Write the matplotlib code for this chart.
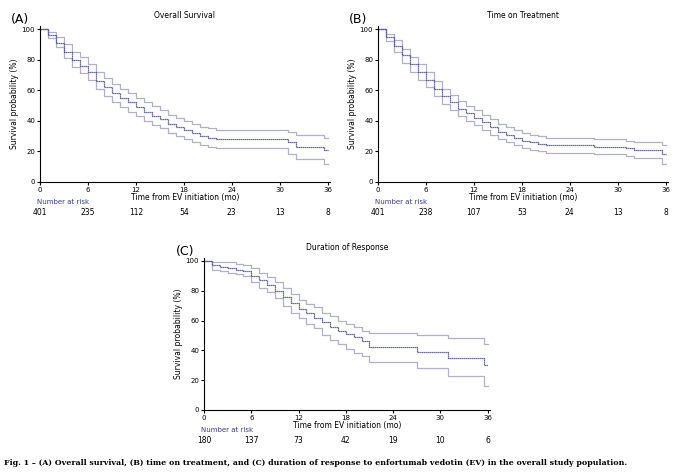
import matplotlib
matplotlib.use("Agg")
from matplotlib import pyplot as plt

months = [0, 1, 2, 3, 4, 5, 6, 7, 8, 9, 10, 11, 12, 13, 14, 15, 16, 17, 18,
          19, 20, 21, 22, 27, 31, 32, 35.5, 36]

os_est = [100, 96, 91, 85, 80, 76, 72, 66, 62, 58, 55, 52, 49, 46, 43, 41, 38, 36, 34, 32, 30, 29, 28, 28, 26, 23, 21, 21]
os_hi = [100, 98, 95, 90, 85, 82, 77, 72, 68, 64, 61, 58, 55, 52, 50, 47, 44, 42, 40, 38, 36, 35, 34, 34, 33, 31, 29, 29]
os_lo = [100, 94, 88, 81, 75, 71, 67, 61, 56, 52, 49, 46, 43, 40, 37, 35, 32, 30, 28, 26, 24, 23, 22, 22, 18, 15, 12, 12]

tot_est = [100, 95, 89, 83, 77, 72, 67, 61, 56, 52, 48, 45, 42, 39, 36, 33, 31, 29, 27, 26, 25, 24, 24, 23, 22, 21, 18, 18]
tot_hi = [100, 97, 93, 87, 82, 77, 72, 66, 61, 57, 53, 50, 47, 44, 41, 38, 36, 34, 32, 31, 30, 29, 29, 28, 27, 26, 24, 24]
tot_lo = [100, 92, 85, 78, 72, 67, 62, 56, 51, 47, 43, 40, 37, 34, 31, 28, 26, 24, 22, 21, 20, 19, 19, 18, 17, 16, 12, 12]

dor_est = [100, 97, 96, 95, 94, 93, 90, 87, 84, 80, 76, 72, 68, 65, 62, 59, 56, 53, 51, 49, 46, 42, 42, 39, 35, 35, 30, 30]
dor_hi = [100, 99, 99, 99, 98, 97, 95, 92, 89, 86, 82, 78, 74, 71, 69, 65, 63, 60, 58, 56, 53, 52, 52, 50, 48, 48, 44, 44]
dor_lo = [100, 94, 93, 92, 91, 90, 86, 82, 79, 75, 70, 65, 62, 58, 55, 50, 47, 44, 41, 38, 36, 32, 32, 28, 23, 23, 16, 16]

risk_times = [0, 6, 12, 18, 24, 30, 36]
os_risk = [401, 235, 112, 54, 23, 13, 8]
tot_risk = [401, 238, 107, 53, 24, 13, 8]
dor_risk = [180, 137, 73, 42, 19, 10, 6]

EST = "#3b3b8f"
CI = "#b0b0cc"
W, H = 680, 476

fig = plt.figure(figsize=(6.8, 4.76), dpi=100)
plt.rcParams["font.family"] = "DejaVu Sans"


def panel(x0, y0, x1, y1, est, hi, lo, risk, title, letter):
    h = y1 - y0
    ax = fig.add_axes([x0 / W, 1 - y1 / H, (x1 - x0) / W, h / H])
    ax.step(months, hi, where="post", color=CI, lw=0.9)
    ax.step(months, lo, where="post", color=CI, lw=0.9)
    ax.step(months, est, where="post", color=EST, lw=0.9, ls=(0, (1, 0.6)))
    ax.set_xlim(0, 36.3)
    ax.set_ylim(0, 102)
    ax.set_xticks(risk_times)
    ax.set_yticks([0, 20, 40, 60, 80, 100])
    ax.tick_params(labelsize=5, length=2, pad=1.5)
    for s in ["top", "right"]:
        ax.spines[s].set_visible(False)
    ax.set_xlabel("Time from EV initiation (mo)", fontsize=5.5, labelpad=0)
    ax.set_ylabel("Survival probability (%)", fontsize=5.5, labelpad=2)
    ax.set_title(title, fontsize=5.5, pad=6)
    ax.text(-0.1, 1.02, letter, transform=ax.transAxes, fontsize=9)
    ax.text(-0.01, -22 / h, "Number at risk", transform=ax.transAxes,
            fontsize=5, color=EST)
    for t, n in zip(risk_times, risk):
        ax.text(t, -26 / h, str(n), transform=ax.get_xaxis_transform(),
                fontsize=5.5, ha="center", va="top")
    return ax


panel(40, 26, 330, 182, os_est, os_hi, os_lo, os_risk, "Overall Survival", "(A)")
panel(378, 26, 668, 182, tot_est, tot_hi, tot_lo, tot_risk, "Time on Treatment", "(B)")
panel(204, 258, 490, 410, dor_est, dor_hi, dor_lo, dor_risk, "Duration of Response", "(C)")

fig.text(4 / W, 1 - 463 / H,
         "Fig. 1 \u2013 (A) Overall survival, (B) time on treatment, and (C) duration of response "
         "to enfortumab vedotin (EV) in the overall study population.",
         fontsize=5.7, fontweight="bold", family="DejaVu Serif", va="center")

plt.savefig("out.png", dpi=100)
